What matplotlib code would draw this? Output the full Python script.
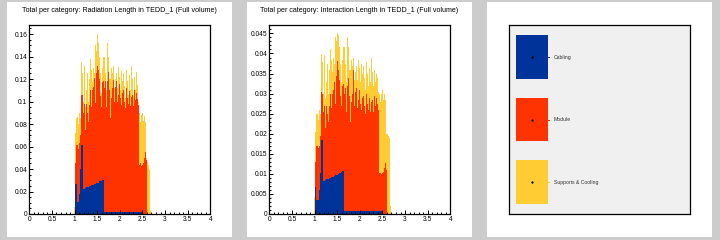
import numpy as np
import matplotlib
matplotlib.use("Agg")
import matplotlib.pyplot as plt
from matplotlib.patches import Rectangle
from matplotlib.ticker import MultipleLocator, FuncFormatter

# bins of 0.02 starting at 0.98
bin_lo = 0.98
bin_w = 0.02

categories = ["Cabling", "Module", "Supports & Cooling"]
colors = ["#003399", "#ff3300", "#ffcc33"]

# radiation length: cabling, top of module stack, total
rl_cab = [0, 0.004, 0.027, 0.027, 0.011, 0.011, 0.018, 0.040, 0.061, 0.061,
          0.022, 0.022, 0.023, 0.023, 0.024, 0.024, 0.024, 0.025, 0.025, 0.026,
          0.026, 0.026, 0.027, 0.027, 0.027, 0.028, 0.028, 0.028, 0.029, 0.029,
          0.029, 0.030, 0.030, 0.030, 0.002, 0.002, 0.002, 0.002, 0.002, 0.002,
          0.002, 0.002, 0.002, 0.002, 0.002, 0.002, 0.002, 0.002, 0.002, 0.002,
          0.002, 0.002, 0.002, 0.002, 0.002, 0.002, 0.002, 0.002, 0.002, 0.002,
          0.002, 0.002, 0.002, 0.002, 0.002, 0.002, 0.002, 0.002, 0.002, 0.002,
          0.002, 0.002, 0.002, 0.002, 0.002, 0.002, 0.001, 0, 0, 0,
          0, 0, 0, 0, 0, 0]
rl_mod_top = [0, 0.020, 0.045, 0.061, 0.061, 0.058, 0.063, 0.070, 0.106, 0.106,
              0.090, 0.098, 0.085, 0.075, 0.098, 0.090, 0.082, 0.097, 0.110, 0.095,
              0.110, 0.113, 0.118, 0.121, 0.099, 0.125, 0.132, 0.128, 0.120, 0.105,
              0.095, 0.117, 0.118, 0.100, 0.112, 0.118, 0.095, 0.118, 0.126, 0.110,
              0.085, 0.103, 0.112, 0.126, 0.119, 0.100, 0.113, 0.118, 0.100, 0.106,
              0.116, 0.103, 0.097, 0.108, 0.092, 0.110, 0.100, 0.094, 0.112, 0.103,
              0.098, 0.109, 0.096, 0.104, 0.112, 0.106, 0.096, 0.110, 0.101, 0.108,
              0.102, 0.097, 0.044, 0.045, 0.043, 0.046, 0.044, 0.045, 0.050, 0.055,
              0.048, 0, 0, 0, 0, 0]
rl_tot = [0.006, 0.060, 0.072, 0.085, 0.086, 0.080, 0.090, 0.085, 0.135, 0.125,
          0.100, 0.132, 0.125, 0.095, 0.110, 0.125, 0.100, 0.120, 0.138, 0.128,
          0.117, 0.130, 0.141, 0.125, 0.150, 0.145, 0.160, 0.152, 0.140, 0.125,
          0.108, 0.130, 0.140, 0.122, 0.140, 0.125, 0.110, 0.152, 0.140, 0.120,
          0.120, 0.130, 0.125, 0.128, 0.132, 0.112, 0.120, 0.125, 0.112, 0.131,
          0.122, 0.110, 0.127, 0.118, 0.105, 0.125, 0.114, 0.103, 0.128, 0.118,
          0.106, 0.124, 0.110, 0.132, 0.135, 0.120, 0.106, 0.122, 0.110, 0.126,
          0.115, 0.100, 0.090, 0.082, 0.088, 0.085, 0.090, 0.083, 0.087, 0.082,
          0.050, 0.046, 0.044, 0.040, 0.004, 0.003]

# interaction length: cabling, top of module stack, total
il_cab = [0, 0.0030, 0.0067, 0.0035, 0.0035, 0.0035, 0.0060, 0.0101, 0.0184, 0.0184,
          0.0082, 0.0083, 0.0084, 0.0085, 0.0086, 0.0087, 0.0088, 0.0089, 0.0090, 0.0091,
          0.0092, 0.0093, 0.0094, 0.0095, 0.0096, 0.0097, 0.0098, 0.0100, 0.0101, 0.0103,
          0.0104, 0.0106, 0.0108, 0.0110, 0.0007, 0.0007, 0.0007, 0.0007, 0.0007, 0.0007,
          0.0007, 0.0007, 0.0007, 0.0007, 0.0007, 0.0007, 0.0007, 0.0007, 0.0007, 0.0007,
          0.0007, 0.0007, 0.0007, 0.0007, 0.0007, 0.0007, 0.0007, 0.0007, 0.0007, 0.0007,
          0.0007, 0.0007, 0.0007, 0.0007, 0.0007, 0.0007, 0.0007, 0.0007, 0.0007, 0.0007,
          0.0007, 0.0007, 0.0007, 0.0007, 0.0007, 0.0007, 0.0004, 0, 0, 0,
          0, 0, 0, 0, 0, 0]
il_mod_top = [0, 0.0060, 0.0130, 0.0170, 0.0170, 0.0165, 0.0170, 0.0195, 0.0303, 0.0300,
              0.0255, 0.0270, 0.0240, 0.0215, 0.0270, 0.0250, 0.0230, 0.0270, 0.0300, 0.0265,
              0.0300, 0.0310, 0.0325, 0.0330, 0.0275, 0.0345, 0.0381, 0.0360, 0.0335, 0.0295,
              0.0270, 0.0320, 0.0325, 0.0280, 0.0300, 0.0315, 0.0255, 0.0320, 0.0340, 0.0295,
              0.0230, 0.0280, 0.0300, 0.0340, 0.0359, 0.0270, 0.0305, 0.0315, 0.0265, 0.0285,
              0.0310, 0.0275, 0.0260, 0.0290, 0.0245, 0.0295, 0.0270, 0.0250, 0.0300, 0.0275,
              0.0260, 0.0290, 0.0255, 0.0280, 0.0300, 0.0285, 0.0255, 0.0295, 0.0270, 0.0290,
              0.0275, 0.0260, 0.0101, 0.0103, 0.0100, 0.0105, 0.0102, 0.0104, 0.0115, 0.0126,
              0.0110, 0, 0, 0, 0, 0]
il_tot = [0.0043, 0.0180, 0.0205, 0.0250, 0.0250, 0.0235, 0.0260, 0.0250, 0.0399, 0.0380,
          0.0300, 0.0395, 0.0375, 0.0290, 0.0330, 0.0375, 0.0300, 0.0360, 0.0410, 0.0385,
          0.0355, 0.0390, 0.0420, 0.0375, 0.0440, 0.0430, 0.0450, 0.0445, 0.0415, 0.0375,
          0.0330, 0.0385, 0.0415, 0.0365, 0.0415, 0.0375, 0.0330, 0.0440, 0.0415, 0.0360,
          0.0360, 0.0385, 0.0370, 0.0380, 0.0390, 0.0335, 0.0355, 0.0370, 0.0335, 0.0385,
          0.0365, 0.0330, 0.0375, 0.0350, 0.0315, 0.0370, 0.0340, 0.0310, 0.0380, 0.0350,
          0.0320, 0.0365, 0.0330, 0.0390, 0.0363, 0.0355, 0.0320, 0.0360, 0.0330, 0.0350,
          0.0340, 0.0305, 0.0300, 0.0280, 0.0300, 0.0290, 0.0310, 0.0285, 0.0300, 0.0285,
          0.0200, 0.0200, 0.0195, 0.0190, 0.0020, 0.0010]

titles = ["Total per category: Radiation Length in TEDD_1 (Full volume)",
          "Total per category: Interaction Length in TEDD_1 (Full volume)"]

plt.rcParams['font.family'] = ['Liberation Sans', 'DejaVu Sans']

W, H = 720, 240
fig = plt.figure(figsize=(W / 100, H / 100), dpi=100, facecolor="#cccccc")


def px_rect(x0, y0, x1, y1):
    # pixel box (top-left origin) -> figure fraction rect
    return [x0 / W, (H - y1) / H, (x1 - x0) / W, (y1 - y0) / H]


# white pads, each as a background axes
for x0 in [7, 247, 487]:
    pad = fig.add_axes(px_rect(x0, 2, x0 + 225, 237), zorder=-1)
    pad.set_facecolor("white")
    pad.set_xticks([])
    pad.set_yticks([])
    for s in pad.spines.values():
        s.set_visible(False)


def fmt(v, pos):
    return "{:g}".format(round(v, 5))


def draw_stack(ax, cab, mod_top, tot, ymax, ymaj, ymin):
    cab = np.array(cab)
    mod_top = np.array(mod_top)
    tot = np.array(tot)
    edges = bin_lo + bin_w * np.arange(len(tot) + 1)
    mod = mod_top - cab
    sup = tot - mod_top
    ax.stairs(cab, edges, baseline=0, fill=True, color=colors[0], lw=0)
    ax.stairs(cab + mod, edges, baseline=cab, fill=True, color=colors[1], lw=0)
    ax.stairs(cab + mod + sup, edges, baseline=cab + mod, fill=True, color=colors[2], lw=0)
    ax.set_xlim(0, 4)
    ax.set_ylim(0, ymax)
    ax.xaxis.set_major_locator(MultipleLocator(0.5))
    ax.xaxis.set_minor_locator(MultipleLocator(0.1))
    ax.yaxis.set_major_locator(MultipleLocator(ymaj))
    ax.yaxis.set_minor_locator(MultipleLocator(ymin))
    ax.xaxis.set_major_formatter(FuncFormatter(fmt))
    ax.yaxis.set_major_formatter(FuncFormatter(fmt))
    ax.tick_params(which="both", direction="in", labelsize=4.8, width=0.7,
                   colors="black", top=False, right=False, pad=1.5)
    ax.tick_params(which="major", length=3.0)
    ax.tick_params(which="minor", length=1.6)
    for s in ax.spines.values():
        s.set_linewidth(0.9)


ax1 = fig.add_axes(px_rect(29.3, 25, 210.3, 214))
draw_stack(ax1, rl_cab, rl_mod_top, rl_tot, 0.168, 0.02, 0.005)
ax2 = fig.add_axes(px_rect(269.3, 25, 450.3, 214))
draw_stack(ax2, il_cab, il_mod_top, il_tot, 0.0471, 0.005, 0.001)

fig.text(119.5 / W, 1 - 11 / H, titles[0], ha="center", va="center", fontsize=5.1)
fig.text(359.5 / W, 1 - 11 / H, titles[1], ha="center", va="center", fontsize=5.1)

# legend pad
axl = fig.add_axes(px_rect(509.3, 25, 690.3, 214))
axl.set_facecolor("#f0f0f0")
axl.set_xlim(509.3, 690.3)
axl.set_ylim(214, 25)
axl.set_xticks([])
axl.set_yticks([])
for s in axl.spines.values():
    s.set_linewidth(0.9)
box_y = [(35, 79), (98, 141), (160, 204)]
for (y0, y1), c, lab in zip(box_y, colors, categories):
    axl.add_patch(Rectangle((516, y0), 32, y1 - y0, facecolor=c, edgecolor="none"))
    yc = (y0 + y1) / 2
    axl.plot([532], [yc], marker="s", ms=0.6, color="black", lw=0)
    axl.plot([547, 549], [yc, yc], color=c, lw=0.7)
    axl.text(554, yc, lab, fontsize=3.7, va="center", ha="left", color="#333333")

fig.savefig("out.png", dpi=100, facecolor=fig.get_facecolor())
